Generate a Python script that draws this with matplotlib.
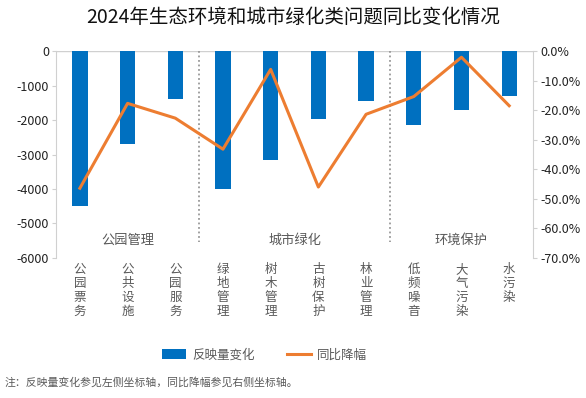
import numpy as np
import matplotlib
matplotlib.use('Agg')
import matplotlib.pyplot as plt
from matplotlib.patches import Patch
from matplotlib.lines import Line2D

plt.rcParams['font.family'] = ['Noto Sans CJK SC', 'DejaVu Sans']

# 数据
categories = ['公园票务', '公共设施', '公园服务', '绿地管理', '树木管理',
              '古树保护', '林业管理', '低频噪音', '大气污染', '水污染']
volume_change = [-4500, -2700, -1400, -4000, -3150, -1970, -1450, -2150, -1700, -1300]
yoy_decline = [-46.4, -17.7, -22.7, -33.2, -6.2, -46.0, -21.4, -15.4, -2.1, -18.5]
groups = ['公园管理', '城市绿化', '环境保护']
group_spans = [(0, 2), (3, 6), (7, 9)]

blue = '#0070C0'
orange = '#ED7D31'
grey = '#595959'

fig = plt.figure(figsize=(5.86, 3.98), dpi=100)
ax = fig.add_axes([0.0956, 0.3518, 0.814, 0.52])
ax2 = ax.twinx()

x = np.arange(len(categories))
ax.bar(x, volume_change, width=0.32, color=blue, zorder=2)
ax2.plot(x, yoy_decline, color=orange, linewidth=2.2, zorder=3)

ax.set_xlim(-0.5, len(categories) - 0.5)
ax.set_ylim(-6000, 0)
ax.set_yticks(np.arange(-6000, 1, 1000))
ax.set_yticklabels([str(v) for v in range(-6000, 1, 1000)], fontsize=9, color='#222222')
ax2.set_ylim(-70, 0)
ax2.set_yticks(np.arange(-70, 1, 10))
ax2.set_yticklabels([f'{v:.1f}%' for v in np.arange(-70, 1, 10)], fontsize=9, color='#222222')

# 坐标轴样式
for a in (ax, ax2):
    for s in a.spines.values():
        s.set_visible(False)
ax.spines['left'].set_visible(True)
ax.spines['left'].set_color('#d0d0d0')
ax2.spines['right'].set_visible(True)
ax2.spines['right'].set_color('#d0d0d0')
ax.axhline(0, color='#d0d0d0', linewidth=1, zorder=1)
ax.tick_params(axis='y', length=3, color='#d0d0d0', pad=2)
ax2.tick_params(axis='y', length=3, color='#d0d0d0', pad=2)
ax.set_xticks([])

# 分组分隔线和组名
for b in (2.5, 6.5):
    ax.plot([b, b], [0, -5550], color='#999999', linestyle=(0, (1, 1.5)), linewidth=1.3, zorder=1)
for name, (s, e) in zip(groups, group_spans):
    ax.text((s + e) / 2, -5500, name, ha='center', va='center', fontsize=9.5, color=grey)

# 竖排类目标签
for i, c in enumerate(categories):
    ax.text(i, -6150, '\n'.join(c), ha='center', va='top', fontsize=9,
            color=grey, linespacing=1.08)

fig.text(0.5, 0.957, '2024年生态环境和城市绿化类问题同比变化情况', ha='center', va='center',
         fontsize=14, color='#111111')

handles = [Patch(facecolor=blue), Line2D([0], [0], color=orange, linewidth=2.2)]
fig.legend(handles, ['反映量变化', '同比降幅'], loc='center', bbox_to_anchor=(0.452, 0.108),
           ncol=2, frameon=False, fontsize=9, handlelength=1.9, handleheight=0.8,
           handletextpad=0.5, columnspacing=2.6, labelcolor=grey)

fig.text(0.008, 0.04, '注：反映量变化参见左侧坐标轴，同比降幅参见右侧坐标轴。', ha='left',
         va='center', fontsize=7.8, color=grey)

fig.savefig('out.png', dpi=100)
